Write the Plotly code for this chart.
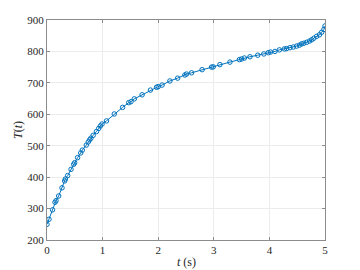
import plotly.graph_objects as go

t_vals = [0, 0.036, 0.10, 0.144, 0.162, 0.21, 0.27, 0.318, 0.33, 0.372, 0.432, 0.48, 0.498,
          0.55, 0.606, 0.635, 0.707, 0.743, 0.768, 0.79, 0.83, 0.89, 0.93, 0.96, 0.99, 1.07,
          1.21, 1.36, 1.47, 1.51, 1.57, 1.71, 1.86, 1.97, 2.0, 2.07, 2.21, 2.35, 2.48, 2.51,
          2.60, 2.79, 2.96, 2.99, 3.11, 3.29, 3.46, 3.50, 3.55, 3.65, 3.79, 3.90, 3.98, 4.02,
          4.10, 4.18, 4.27, 4.31, 4.37, 4.43, 4.49, 4.54, 4.58, 4.62, 4.67, 4.72, 4.76, 4.80,
          4.85, 4.90, 4.94, 4.98, 5.0]
T_vals = [250, 266, 296, 320, 325, 340, 366, 388, 394, 405, 425, 441, 446,
          462, 477, 486, 502, 512, 519, 524, 533, 545, 555, 563, 569, 579,
          601, 622, 637, 640, 649, 662, 677, 686, 688, 693, 706, 715, 725, 728,
          732, 742, 750, 751, 758, 766, 774, 776, 779, 783, 788, 792, 796, 798,
          800, 805, 808, 809, 812, 814, 817, 820, 824, 826, 829, 833, 837, 842,
          848, 853, 861, 870, 881]

x_ticks = [0, 1, 2, 3, 4, 5]
y_ticks = [200, 300, 400, 500, 600, 700, 800, 900]

blue = "#0072BD"
font = "Liberation Serif"

fig = go.Figure()
fig.add_trace(go.Scatter(
    x=t_vals, y=T_vals, mode="lines+markers",
    line=dict(color=blue, width=1),
    marker=dict(symbol="circle-open", size=4.5, color=blue, line=dict(width=1, color=blue)),
    showlegend=False,
))

axis_common = dict(
    showline=True, linecolor="#8c8c8c", linewidth=1, mirror="ticks",
    ticks="inside", ticklen=3, tickcolor="#8c8c8c",
    showgrid=True, gridcolor="#ececec", gridwidth=1,
    zeroline=False, automargin=False,
    tickfont=dict(family=font, size=11, color="#262626"),
)

fig.update_xaxes(range=[0, 5], tickvals=x_ticks, title=None, **axis_common)
fig.update_yaxes(range=[200, 900], tickvals=y_ticks, title=None, **axis_common)

fig.add_annotation(text="<i>t</i> (s)", xref="paper", yref="paper", x=0.5, y=0,
                   yshift=-22, showarrow=False, xanchor="center", yanchor="middle",
                   font=dict(family=font, size=12, color="#262626"))
fig.add_annotation(text="<i>T</i>(<i>t</i>)", xref="paper", yref="paper", x=0, y=0.5,
                   xshift=-29, showarrow=False, textangle=-90, xanchor="center", yanchor="middle",
                   font=dict(family=font, size=12, color="#262626"))

fig.update_layout(
    width=360, height=270,
    font=dict(family=font),
    margin=dict(l=47, r=35, t=20, b=30),
    paper_bgcolor="white", plot_bgcolor="white",
)

fig.write_html("out.html")
